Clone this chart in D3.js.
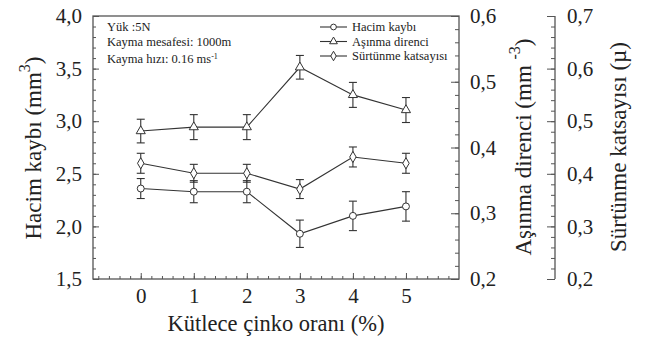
<!DOCTYPE html>
<html>
<head>
<meta charset="utf-8">
<script src="https://cdn.jsdelivr.net/npm/d3@7"></script>
<style>
  body { margin: 0; background: #fff; }
  svg text { font-family: 'Liberation Serif', 'Tinos', 'Times New Roman' !important; }
</style>
</head>
<body>
<div id="chart-area"></div>
<script>
let width = 653,
height = 337;

// data
let zinc = [0, 1, 2, 3, 4, 5];
let hacim = [2.36, 2.33, 2.33, 1.93, 2.10, 2.19];
let hacimErr = [0.095, 0.105, 0.105, 0.13, 0.14, 0.14];
let asinma = [0.425, 0.431, 0.431, 0.522, 0.480, 0.457];
let asinmaErr = [0.018, 0.019, 0.019, 0.018, 0.019, 0.019];
let surtunme = [0.420, 0.401, 0.401, 0.371, 0.432, 0.420];
let surtunmeErr = [0.019, 0.017, 0.017, 0.018, 0.019, 0.019];
let legendNames = ["Hacim kaybı", "Aşınma direnci", "Sürtünme katsayısı"];
let notes = ["Yük :5N", "Kayma mesafesi: 1000m", "Kayma hızı: 0.16 ms"];

let pLeft = 93, pRight = 459, pTop = 16, pBottom = 279;
let axis3x = 555;
let fontName = "Liberation Serif";

let svg = d3.select("#chart-area").append("svg")
    .attr("width", width)
    .attr("height", height)
    .attr("font-family", fontName);

let x = d3.scaleLinear().domain([-0.9, 6.0]).range([pLeft, pRight]);
let yLeft = d3.scaleLinear().domain([1.5, 4.0]).range([pBottom, pTop]);
let yRight = d3.scaleLinear().domain([0.2, 0.6]).range([pBottom, pTop]);
let y3 = d3.scaleLinear().domain([0.2, 0.7]).range([pBottom, pTop]);

let fmt = d => d3.format(".1f")(d).replace(".", ",");
let frameColor = "#555";

// frame
svg.append("rect")
    .attr("x", pLeft).attr("y", pTop)
    .attr("width", pRight - pLeft).attr("height", pBottom - pTop)
    .attr("fill", "none").attr("stroke", frameColor).attr("stroke-width", 1.3);

function styleAxis(g) {
    g.attr("font-family", null).attr("font-size", null);
    g.select(".domain").remove();
    g.selectAll("line").attr("stroke", frameColor).attr("stroke-width", 1);
    g.selectAll("text").attr("font-size", 21).attr("fill", "#222");
}

// x axis (ticks inward)
svg.append("g")
    .attr("transform", `translate(0,${pBottom})`)
    .call(d3.axisBottom(x).tickValues(d3.range(-0.8, 6.0, 0.2)).tickSize(-3).tickFormat(""))
    .call(styleAxis);
svg.append("g")
    .attr("transform", `translate(0,${pBottom})`)
    .call(d3.axisBottom(x).tickValues(zinc).tickSize(-6).tickPadding(9).tickFormat(d3.format("d")))
    .call(styleAxis);

// left axis
svg.append("g")
    .attr("transform", `translate(${pLeft},0)`)
    .call(d3.axisLeft(yLeft).tickValues(d3.range(1.6, 4.0, 0.1)).tickSize(-3).tickFormat(""))
    .call(styleAxis);
svg.append("g")
    .attr("transform", `translate(${pLeft},0)`)
    .call(d3.axisLeft(yLeft).tickValues(d3.range(1.5, 4.01, 0.5)).tickSize(-6).tickPadding(11).tickFormat(fmt))
    .call(styleAxis);

// right axis on frame
svg.append("g")
    .attr("transform", `translate(${pRight},0)`)
    .call(d3.axisRight(yRight).tickValues(d3.range(0.22, 0.6, 0.02)).tickSize(-4).tickFormat(""))
    .call(styleAxis);
svg.append("g")
    .attr("transform", `translate(${pRight},0)`)
    .call(d3.axisRight(yRight).tickValues(d3.range(0.2, 0.61, 0.1)).tickSize(-8).tickPadding(11).tickFormat(fmt))
    .call(styleAxis);

// third axis
svg.append("line")
    .attr("x1", axis3x).attr("x2", axis3x).attr("y1", pTop).attr("y2", pBottom)
    .attr("stroke", frameColor).attr("stroke-width", 1.3);
svg.append("g")
    .attr("transform", `translate(${axis3x},0)`)
    .call(d3.axisRight(y3).tickValues(d3.range(0.22, 0.7, 0.02)).tickSize(-4).tickFormat(""))
    .call(styleAxis);
svg.append("g")
    .attr("transform", `translate(${axis3x},0)`)
    .call(d3.axisRight(y3).tickValues(d3.range(0.2, 0.71, 0.1)).tickSize(-8).tickPadding(12).tickFormat(fmt))
    .call(styleAxis);

// axis titles
let t1 = svg.append("text")
    .attr("transform", "translate(33,148) rotate(-90)")
    .attr("text-anchor", "middle").attr("dominant-baseline", "central")
    .attr("font-size", 23);
t1.append("tspan").text("Hacim kaybı (mm");
t1.append("tspan").attr("baseline-shift", "super").attr("font-size", 16).text("3");
t1.append("tspan").text(")");

let t2 = svg.append("text")
    .attr("transform", "translate(523,147) rotate(-90)")
    .attr("text-anchor", "middle").attr("dominant-baseline", "central")
    .attr("font-size", 23);
t2.append("tspan").text("Aşınma direnci (mm ");
t2.append("tspan").attr("baseline-shift", "super").attr("font-size", 16).text("-3");
t2.append("tspan").text(")");

svg.append("text")
    .attr("transform", "translate(618,147) rotate(-90)")
    .attr("text-anchor", "middle").attr("dominant-baseline", "central")
    .attr("font-size", 23)
    .text("Sürtünme katsayısı (µ)");

svg.append("text")
    .attr("x", 276).attr("y", 331)
    .attr("text-anchor", "middle")
    .attr("font-size", 22.5)
    .text("Kütlece çinko oranı (%)");

// notes
notes.forEach((n, i) => {
    let t = svg.append("text")
        .attr("x", 107).attr("y", [31, 46, 63][i])
        .attr("font-size", 12.5)
        .text(n);
    if (i == 2) t.append("tspan").attr("baseline-shift", "super").attr("font-size", 8).text("-1");
});

// series
let series = [
    {vals: hacim, err: hacimErr, y: yLeft, sym: d3.symbolCircle},
    {vals: asinma, err: asinmaErr, y: yRight, sym: d3.symbolTriangle},
    {vals: surtunme, err: surtunmeErr, y: y3, sym: d3.symbolDiamond}
];
let lineColor = "#333";

series.forEach(s => {
    let line = d3.line().x((d, i) => x(zinc[i])).y(d => s.y(d));
    svg.append("path")
        .datum(s.vals)
        .attr("d", line)
        .attr("fill", "none").attr("stroke", lineColor).attr("stroke-width", 1.1);

    let eb = svg.append("g").selectAll("g")
        .data(s.vals).enter().append("g");
    eb.append("line")
        .attr("x1", (d, i) => x(zinc[i])).attr("x2", (d, i) => x(zinc[i]))
        .attr("y1", (d, i) => s.y(d - s.err[i])).attr("y2", (d, i) => s.y(d + s.err[i]))
        .attr("stroke", lineColor).attr("stroke-width", 1.1);
    [-1, 1].forEach(sg => {
        eb.append("line")
            .attr("x1", (d, i) => x(zinc[i]) - 4).attr("x2", (d, i) => x(zinc[i]) + 4)
            .attr("y1", (d, i) => s.y(d + sg * s.err[i])).attr("y2", (d, i) => s.y(d + sg * s.err[i]))
            .attr("stroke", lineColor).attr("stroke-width", 1.1);
    });

    svg.append("g").selectAll("path")
        .data(s.vals).enter().append("path")
        .attr("d", d3.symbol().type(s.sym).size(s.sym == d3.symbolCircle ? 38 : 36))
        .attr("transform", (d, i) => `translate(${x(zinc[i])},${s.y(d)})`)
        .attr("fill", "#fff").attr("stroke", lineColor).attr("stroke-width", 1);
});

// legend
let legend = svg.append("g");
legendNames.forEach((name, i) => {
    let ly = 27 + i * 14.5;
    legend.append("line")
        .attr("x1", 320).attr("x2", 347).attr("y1", ly).attr("y2", ly)
        .attr("stroke", lineColor).attr("stroke-width", 1.1);
    legend.append("path")
        .attr("d", d3.symbol().type(series[i].sym).size(26))
        .attr("transform", `translate(333.5,${ly})`)
        .attr("fill", "#fff").attr("stroke", lineColor).attr("stroke-width", 1);
    legend.append("text")
        .attr("x", 352).attr("y", ly + 4)
        .attr("font-size", 12.5)
        .text(name);
});

svg.selectAll("text").style("font-family", "'" + fontName + "'").attr("fill", "#222");
</script>
</body>
</html>
